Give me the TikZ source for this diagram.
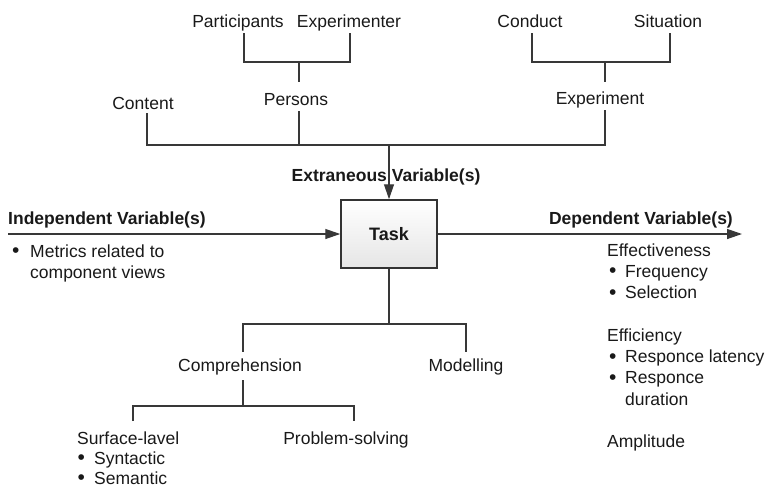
\documentclass[tikz,border=0pt]{standalone}
\usepackage{fontspec}
\setmainfont{Liberation Sans}
\usetikzlibrary{arrows.meta}
\newcommand\mybul[2]{\makebox[#2][l]{\hspace{#1}\raisebox{-0.6pt}{\fontsize{21}{21}\selectfont\char"2022}}}
\begin{document}
\begin{tikzpicture}[x=1pt,y=-1pt,
  txt/.style={inner sep=0pt, text height=12.5pt, text depth=3.5pt,
    font=\fontsize{17.5}{21.3}\selectfont, text=black!90},
  boldtxt/.style={txt, font=\fontsize{17.5}{21.3}\selectfont\bfseries},
  ln/.style={draw=black!78, line width=1.3pt},
  arr/.style={ln, -{Triangle[length=15pt,width=10pt]}},
  taskbox/.style={draw=black!80, line width=1.5pt, top color=white,
    bottom color=black!10, minimum width=96pt, minimum height=68pt,
    inner sep=0pt, text=black!90, font=\fontsize{18}{21.3}\selectfont\bfseries}]
\useasboundingbox (0,0) rectangle (765,490);

% top tree
\node[txt,anchor=base] (part) at (238,27) {Participants};
\node[txt,anchor=base] (expm) at (349,27) {Experimenter};
\node[txt,anchor=base] (cond) at (530,27) {Conduct};
\node[txt,anchor=base] (situ) at (668,27) {Situation};
\node[txt,anchor=base] (cont) at (143,109) {Content};
\node[txt,anchor=base] (pers) at (296,105) {Persons};
\node[txt,anchor=base] (expt) at (600,104) {Experiment};
\node[boldtxt,anchor=base] (extr) at (386,181) {Extraneous Variable(s)};

% task
\node[taskbox] (task) at (389,234) {Task};

% sides
\node[boldtxt,anchor=base west] (indep) at (8,224) {Independent Variable(s)};
\node[txt,anchor=base west] (met1) at (8,257) {\mybul{4pt}{22pt}Metrics related to};
\node[txt,anchor=base west] (met2) at (30,278.3) {component views};

\node[boldtxt,anchor=base east] (dep) at (733,224) {Dependent Variable(s)};
\node[txt,anchor=base west] (eff) at (607,256) {Effectiveness};
\node[txt,anchor=base west] (freq) at (607,277.3) {\mybul{2pt}{18pt}Frequency};
\node[txt,anchor=base west] (sel) at (607,298.6) {\mybul{2pt}{18pt}Selection};
\node[txt,anchor=base west] (effi) at (607,341.2) {Efficiency};
\node[txt,anchor=base west] (lat) at (607,362.5) {\mybul{2pt}{18pt}Responce latency};
\node[txt,anchor=base west] (dur1) at (607,383.8) {\mybul{2pt}{18pt}Responce};
\node[txt,anchor=base west] (dur2) at (625,405.1) {duration};
\node[txt,anchor=base west] (ampl) at (607,447.7) {Amplitude};

% bottom tree
\node[txt,anchor=base] (comp) at (240,371) {Comprehension};
\node[txt,anchor=base] (model) at (466,371) {Modelling};
\node[txt,anchor=base west] (surf) at (77,444) {Surface-lavel};
\node[txt,anchor=base west] (synt) at (77,464.3) {\mybul{0.5pt}{17pt}Syntactic};
\node[txt,anchor=base west,text depth=0.5pt] (sema) at (77,484.3) {\mybul{0.5pt}{17pt}Semantic};
\node[txt,anchor=base] (prob) at (346,444) {Problem-solving};

% junctions
\coordinate (jP) at (299,62);
\coordinate (jE) at (605,62);
\coordinate (jX) at (389,145);
\coordinate (jPs) at (299,145);
\coordinate (jT) at (389,324);
\coordinate (jC) at (243,406);
\coordinate (sTop) at (133,421);
\coordinate (inStart) at (8,234);
\coordinate (outEnd) at (742,234);

% connectors top
\draw[ln] ([xshift=6pt,yshift=-2.5pt]part.south) |- (jP) -| ([xshift=1pt,yshift=-2.5pt]expm.south);
\draw[ln] (jP) -- ([xshift=3pt,yshift=10.5pt]pers.north);
\draw[ln] ([xshift=2pt,yshift=-2.5pt]cond.south) |- (jE) -| ([xshift=2pt,yshift=-2.5pt]situ.south);
\draw[ln] (jE) -- ([xshift=5pt,yshift=9.5pt]expt.north);
\draw[ln] ([xshift=4pt,yshift=-0.5pt]cont.south) |- (jX) -| ([xshift=5pt,yshift=-2.5pt]expt.south);
\draw[ln] ([xshift=3pt,yshift=-2.5pt]pers.south) -- (jPs);
\draw[arr] (jX) -- (task.north);

% side arrows
\draw[arr] (inStart) -- (task.west);
\draw[arr] (task.east) -- (outEnd);

% connectors bottom
\draw[ln] (task.south) -- (jT);
\draw[ln] ([xshift=3pt,yshift=6.5pt]comp.north) |- (jT) -| ([yshift=6.5pt]model.north);
\draw[ln] ([xshift=3pt,yshift=-5.5pt]comp.south) -- (jC);
\draw[ln] (sTop) |- (jC) -| ([xshift=8pt,yshift=10.5pt]prob.north);
\end{tikzpicture}
\end{document}
